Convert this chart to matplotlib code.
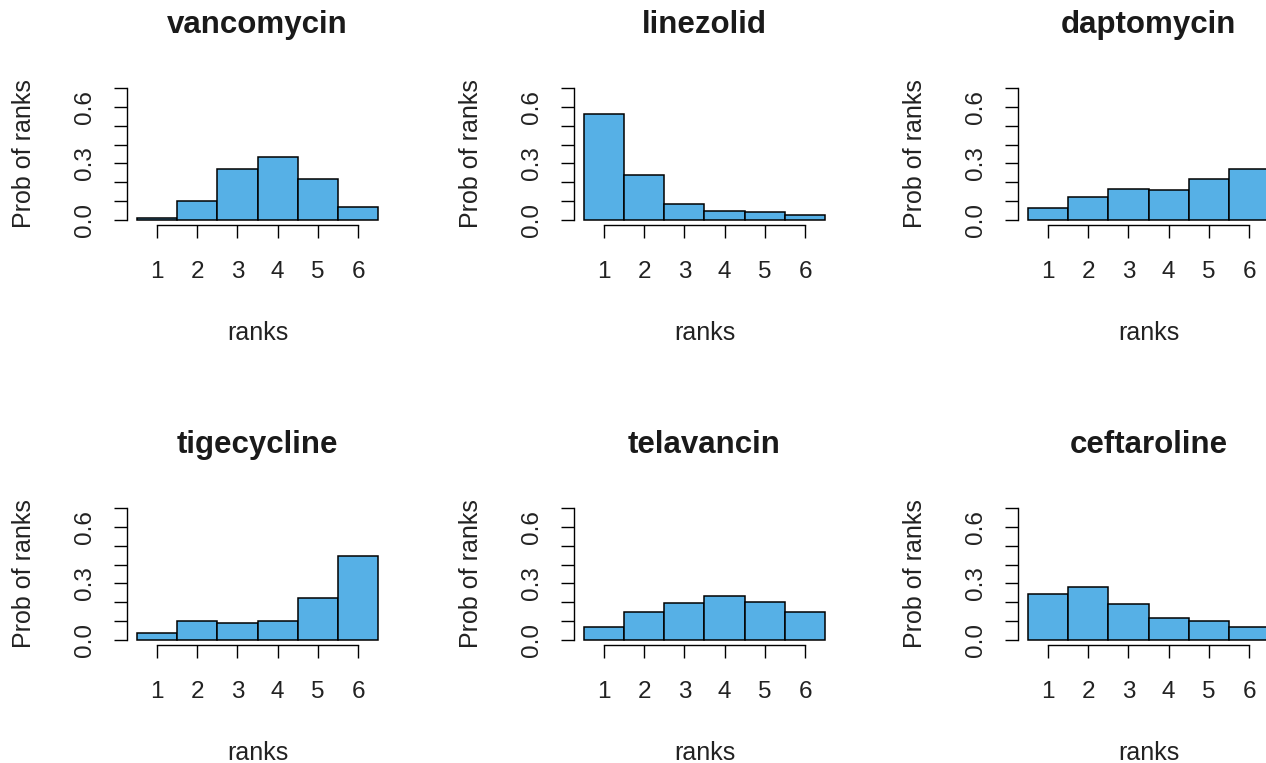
import matplotlib
matplotlib.use("Agg")
import matplotlib.pyplot as plt

# rank probabilities
drugs = ["vancomycin", "linezolid", "daptomycin",
         "tigecycline", "telavancin", "ceftaroline"]
ranks = ["1", "2", "3", "4", "5", "6"]
vancomycin = [0.01, 0.10, 0.27, 0.335, 0.215, 0.07]
linezolid = [0.56, 0.24, 0.085, 0.05, 0.04, 0.025]
daptomycin = [0.065, 0.12, 0.165, 0.16, 0.22, 0.27]
tigecycline = [0.038, 0.10, 0.09, 0.10, 0.225, 0.447]
telavancin = [0.07, 0.15, 0.195, 0.235, 0.20, 0.15]
ceftaroline = [0.245, 0.28, 0.19, 0.115, 0.10, 0.07]
probs = [vancomycin, linezolid, daptomycin, tigecycline, telavancin, ceftaroline]
yticks = [0.0, 0.1, 0.2, 0.3, 0.4, 0.5, 0.6, 0.7]
ylabels = ["0.0", "", "", "0.3", "", "", "0.6", ""]

plt.rcParams['font.family'] = ['Liberation Sans', 'DejaVu Sans']

W, H = 1266, 763
fig = plt.figure(figsize=(W / 100, H / 100), dpi=100)

# panel boxes in pixels: left edges per column, bottom edges per row
lefts = [127, 574, 1018]
bottoms = [225.3, 645.3]
pw, ph = 261, 142.6

for i, (name, p) in enumerate(zip(drugs, probs)):
    col, row = i % 3, i // 3
    ax = fig.add_axes([lefts[col] / W, 1 - bottoms[row] / H, pw / W, ph / H])
    x = [k + 0.5 for k in range(len(p))]
    ax.bar(x, p, width=1.0, color='#56B0E6', edgecolor='black', linewidth=1.1)
    ax.set_xlim(-0.24, 6.24)
    ax.set_ylim(-0.028, 0.728)

    for s in ['top', 'right']:
        ax.spines[s].set_visible(False)
    ax.spines['left'].set_bounds(0, 0.7)
    ax.spines['bottom'].set_bounds(0.5, 5.5)
    for s in ['left', 'bottom']:
        ax.spines[s].set_linewidth(1.0)

    ax.set_xticks(x)
    ax.set_xticklabels(ranks)
    ax.set_yticks(yticks)
    ax.set_yticklabels(ylabels, rotation=90, va='center')
    ax.tick_params(axis='both', length=9.3, width=1.0,
                   labelsize=17.5, colors='black', labelcolor='#222222')
    ax.tick_params(axis='x', pad=16.5)
    ax.tick_params(axis='y', pad=13)

    ax.text(0.5, 1.405, name, transform=ax.transAxes, ha='center', va='center',
            fontsize=22.5, fontweight='bold', color='#1a1a1a')
    ax.text(0.5, -0.755, 'ranks', transform=ax.transAxes, ha='center',
            va='center', fontsize=18, color='#222222')
    ax.text(-0.395, 0.5, 'Prob of ranks', transform=ax.transAxes, ha='center',
            va='center', rotation=90, fontsize=18, color='#222222')

fig.savefig('out.png', dpi=100)
